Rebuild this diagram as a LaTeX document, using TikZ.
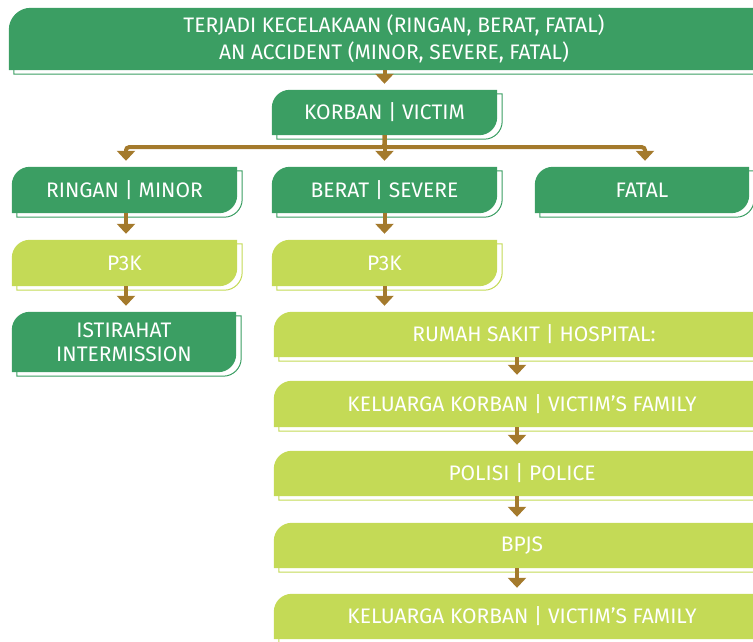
\documentclass[tikz,border=0pt]{standalone}
\usepackage{fontspec}
\setmainfont{Fira Sans}
\usetikzlibrary{arrows.meta,backgrounds}
\definecolor{dkgreen}{HTML}{3B9E63}
\definecolor{ltgreen}{HTML}{C4DA56}
\definecolor{flowbrown}{HTML}{A47A2C}
% leaf outline: round top-left and bottom-right corners
\newcommand{\leafpath}[2]{(#1.south west) -- ([yshift=-#2]#1.north west)
  arc[start angle=180,end angle=90,radius=#2] -- (#1.north east)
  -- ([yshift=#2]#1.south east) arc[start angle=0,end angle=-90,radius=#2] -- cycle}

\begin{document}
\begin{tikzpicture}[x=1pt,y=1pt,
  leaf/.style={text=white,font=\fontsize{21}{24}\selectfont,align=center,
    inner sep=0pt,minimum height=46pt},
  flow/.style={draw=flowbrown,line width=4pt,rounded corners=3pt,
    -{Triangle[width=18pt,length=10pt]},shorten >=6pt}]

  \useasboundingbox (0,0) rectangle (753,-642);

  \node[leaf, minimum width=770pt, minimum height=62pt] (top) at (394,-39)
    {TERJADI KECELAKAAN (RINGAN, BERAT, FATAL)\\[3pt] AN ACCIDENT (MINOR, SEVERE, FATAL)};
  \node[leaf, minimum width=225pt, minimum height=45pt] (korban) at (384.5,-112.5) {KORBAN | VICTIM};

  \node[leaf, minimum width=225pt] (ringan) at (124.5,-190) {RINGAN | MINOR};
  \node[leaf, minimum width=225pt] (berat) at (384.5,-190) {BERAT | SEVERE};
  \node[leaf, minimum width=214pt] (fatal) at (642,-190) {FATAL};

  \node[leaf, minimum width=225pt] (p3ka) at (124.5,-263) {P3K};
  \node[leaf, minimum width=225pt] (p3kb) at (384.5,-263) {P3K};
  \node[leaf, minimum width=224pt, minimum height=60pt] (istirahat) at (124,-342)
    {ISTIRAHAT\\INTERMISSION};

  \node[leaf, minimum width=496pt, minimum height=45pt] (rumah) at (522,-334.5) {\hspace*{24pt}RUMAH SAKIT | HOSPITAL:};
  \node[leaf, minimum width=496pt] (kela) at (522,-404) {KELUARGA KORBAN | VICTIM’S FAMILY};
  \node[leaf, minimum width=496pt, minimum height=45pt] (polisi) at (522,-473.5) {POLISI | POLICE};
  \node[leaf, minimum width=496pt, minimum height=45pt] (bpjs) at (522,-545.5) {BPJS};
  \node[leaf, minimum width=496pt, minimum height=45pt] (kelb) at (522,-616.5) {KELUARGA KORBAN | VICTIM’S FAMILY};

  \begin{scope}[on background layer]
    \foreach \n/\c/\r in {top/dkgreen/22pt, korban/dkgreen/18pt, ringan/dkgreen/18pt,
        berat/dkgreen/18pt, fatal/dkgreen/18pt, p3ka/ltgreen/18pt, p3kb/ltgreen/18pt,
        istirahat/dkgreen/18pt, rumah/ltgreen/18pt, kela/ltgreen/18pt,
        polisi/ltgreen/18pt, bpjs/ltgreen/18pt, kelb/ltgreen/18pt} {
      \draw[\c, fill=white, line width=1pt, transform canvas={shift={(5pt,-4pt)}}] \leafpath{\n}{\r};
      \fill[\c] \leafpath{\n}{\r};
    }
  \end{scope}

  \draw[flow] (korban.north |- top.south) -- (korban.north);
  \draw[flow] (korban.south) -- ++(0,-12) -| ([xshift=1.5pt]ringan.north);
  \draw[flow] (korban.south) -- (berat.north);
  \draw[flow] (korban.south) -- ++(0,-12) -| ([xshift=3pt]fatal.north);
  \draw[flow] ([xshift=1.5pt]ringan.south) -- ([xshift=1.5pt]p3ka.north);
  \draw[flow] ([xshift=1.5pt]p3ka.south) -- ([xshift=2pt]istirahat.north);
  \draw[flow] (berat.south) -- (p3kb.north);
  \draw[flow] (p3kb.south) -- (p3kb.south |- rumah.north);
  \foreach \a/\b in {rumah/kela, kela/polisi, polisi/bpjs, bpjs/kelb}
    \draw[flow] ([xshift=-5pt]\a.south) -- ([xshift=-5pt]\b.north);

\end{tikzpicture}
\end{document}
